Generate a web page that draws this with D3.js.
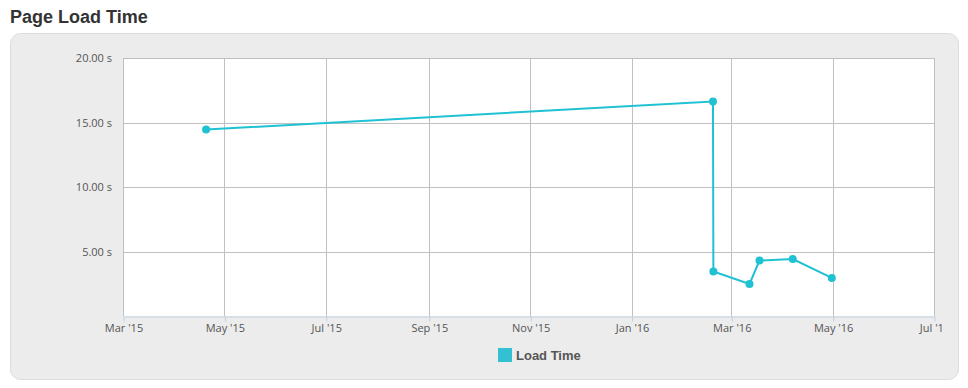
<!DOCTYPE html>
<html>
<head>
<meta charset="utf-8">
<script src="https://cdn.jsdelivr.net/npm/d3@7"></script>
<style>
  body { margin: 0; background: #fff; }
  #chart { width: 968px; height: 388px; }
</style>
</head>
<body>
<div id="chart"></div>
<script>
// Data
const dates = [
  '2015-04-20T00:00', '2016-02-19T00:00', '2016-02-19T06:00',
  '2016-03-12T00:00', '2016-03-18T00:00', '2016-04-07T00:00', '2016-04-30T12:00'
];
const loadTimes = [14.45, 16.63, 3.45, 2.48, 4.30, 4.42, 2.95];
const yTicks = [5, 10, 15, 20];
const xTicks = ['2015-03-01', '2015-05-01', '2015-07-01', '2015-09-01', '2015-11-01',
  '2016-01-01', '2016-03-01', '2016-05-01', '2016-07-01'];
const seriesName = 'Load Time';

function draw() {
  const parse = d3.isoParse;
  const points = dates.map((d, i) => ({ date: parse(d), value: loadTimes[i] }));

  // Dimensions
  const dimensions = { width: 968, height: 388 };
  const plot = { left: 123, right: 934, top: 58, bottom: 316 };

  const svg = d3.select('#chart')
    .append('svg')
    .attr('width', dimensions.width)
    .attr('height', dimensions.height);

  // labels past the right edge get cut, like in the original widget
  svg.append('clipPath').attr('id', 'labelClip')
    .append('rect').attr('x', 0).attr('y', 0).attr('width', 944).attr('height', dimensions.height);

  // Title
  svg.append('text')
    .attr('x', 10)
    .attr('y', 23)
    .style('font-family', 'Liberation Sans, Arial, sans-serif')
    .style('font-size', '18px')
    .style('font-weight', 'bold')
    .style('fill', '#333')
    .text('Page Load Time');

  // Panel
  svg.append('rect')
    .attr('x', 10.5).attr('y', 33.5)
    .attr('width', 948).attr('height', 346)
    .attr('rx', 10).attr('ry', 10)
    .attr('fill', '#ececec')
    .attr('stroke', '#dcdcdc');

  // Scales
  const xScale = d3.scaleTime()
    .domain([parse('2015-03-01'), parse('2016-07-01')])
    .range([plot.left, plot.right]);
  const yScale = d3.scaleLinear()
    .domain([0, 20])
    .range([plot.bottom, plot.top]);

  // Plot background
  svg.append('rect')
    .attr('x', plot.left).attr('y', plot.top)
    .attr('width', plot.right - plot.left).attr('height', plot.bottom - plot.top)
    .attr('fill', '#fff');

  const labelFont = 'Open Sans, DejaVu Sans, sans-serif';

  // Grid
  const grid = svg.append('g');
  grid.selectAll('line.v')
    .data(xTicks.map(parse))
    .join('line')
    .attr('x1', d => Math.round(xScale(d)) + 0.5)
    .attr('x2', d => Math.round(xScale(d)) + 0.5)
    .attr('y1', plot.top)
    .attr('y2', plot.bottom)
    .attr('stroke', '#c0c0c0');
  grid.selectAll('line.h')
    .data(yTicks)
    .join('line')
    .attr('class', 'h')
    .attr('x1', plot.left)
    .attr('x2', plot.right)
    .attr('y1', d => Math.round(yScale(d)) + 0.5)
    .attr('y2', d => Math.round(yScale(d)) + 0.5)
    .attr('stroke', '#c0c0c0');

  // X axis
  const xAxis = d3.axisBottom(xScale)
    .tickValues(xTicks.map(parse))
    .tickFormat(d3.timeFormat("%b '%y"))
    .tickSize(5)
    .tickSizeOuter(0);
  const gx = svg.append('g')
    .attr('clip-path', 'url(#labelClip)')
    .append('g')
    .attr('transform', `translate(0.5, ${plot.bottom + 0.5})`)
    .call(xAxis);
  gx.select('.domain').attr('stroke', '#c0d0e0');
  gx.selectAll('.tick line').attr('stroke', '#c0d0e0');
  gx.selectAll('.tick text')
    .attr('y', 8)
    .style('font-family', labelFont)
    .style('font-size', '11px')
    .style('fill', '#555');

  // Y axis labels
  const yAxis = d3.axisLeft(yScale)
    .tickValues(yTicks)
    .tickFormat(d => d3.format('.2f')(d) + ' s')
    .tickSize(0);
  const gy = svg.append('g')
    .attr('transform', `translate(${plot.left - 8}, 0)`)
    .call(yAxis);
  gy.select('.domain').remove();
  gy.selectAll('.tick text')
    .style('font-family', labelFont)
    .style('font-size', '11px')
    .style('fill', '#555');

  // Line
  const color = '#1fc1d3';
  const line = d3.line()
    .x(d => xScale(d.date))
    .y(d => yScale(d.value));
  svg.append('path')
    .datum(points)
    .attr('d', line)
    .attr('fill', 'none')
    .attr('stroke', color)
    .attr('stroke-width', 2);
  svg.selectAll('circle.pt')
    .data(points)
    .join('circle')
    .attr('class', 'pt')
    .attr('cx', d => xScale(d.date))
    .attr('cy', d => yScale(d.value))
    .attr('r', 4)
    .attr('fill', color);

  // Legend
  const legend = svg.append('g').attr('transform', 'translate(498, 348)');
  legend.append('rect')
    .attr('width', 14).attr('height', 14)
    .attr('fill', '#33c0d2');
  legend.append('text')
    .attr('x', 18).attr('y', 12)
    .style('font-family', 'Liberation Sans, Arial, sans-serif')
    .style('font-size', '13px')
    .style('font-weight', 'bold')
    .style('fill', '#555')
    .text(seriesName);
}

draw();
</script>
</body>
</html>
